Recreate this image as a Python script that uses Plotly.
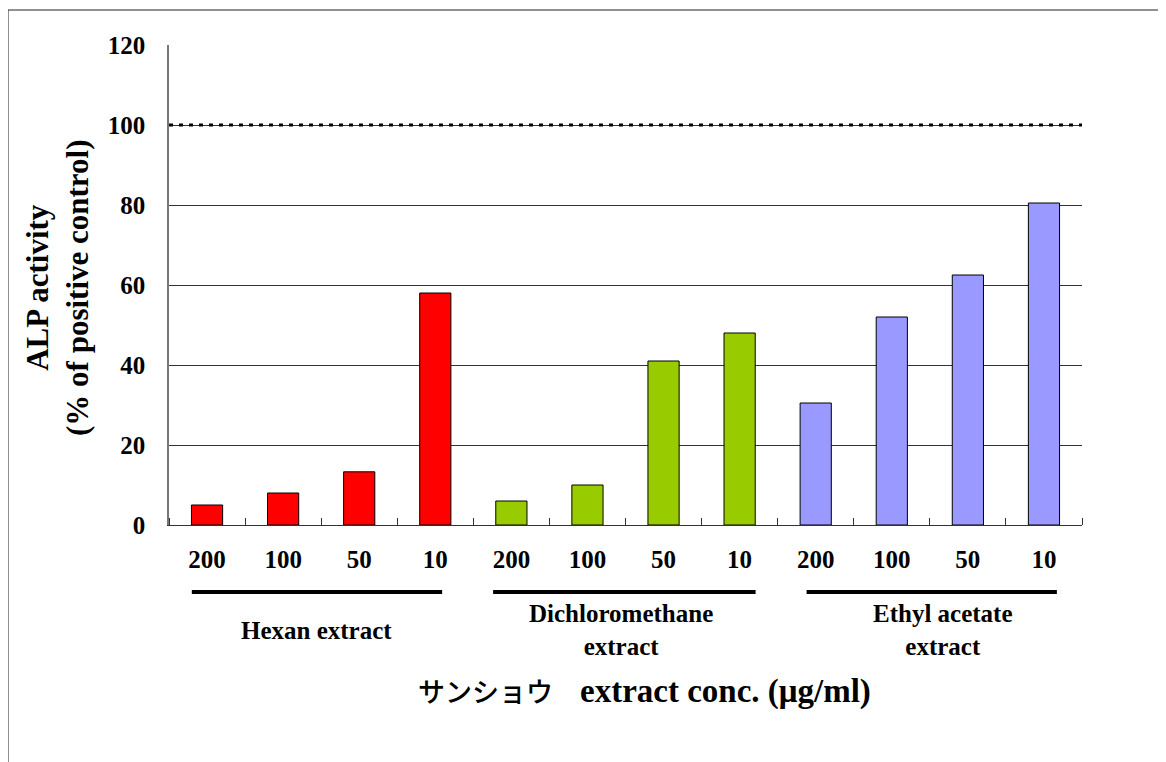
import plotly.graph_objects as go

# ---- data ----
groups = ["Hexan extract", "Dichloromethane<br>extract", "Ethyl acetate<br>extract"]
concentrations = ["200", "100", "50", "10"]
hexan_vals = [5, 8, 13.3, 58]
dichloro_vals = [6, 10, 41, 48]
ethyl_vals = [30.5, 52, 62.5, 80.5]
group_colors = ["#FF0000", "#99CC00", "#9999FF"]
y_ticks = [0, 20, 40, 60, 80, 100, 120]
control_level = 100

series = [hexan_vals, dichloro_vals, ethyl_vals]
n_conc = len(concentrations)

FONT = "Liberation Serif"
W, H = 1166, 762
OFF = 8  # page body margin
L, R, T, B = 169 - OFF, 1082 - OFF, 45 - OFF, 525 - OFF
pw, ph = R - L, B - T

def px2paperx(px):
    return (px - OFF - L) / pw

def px2papery(py):
    return (B - (py - OFF)) / ph

fig = go.Figure()
all_x = []
all_text = []
for gi, vals in enumerate(series):
    xs = [gi * n_conc + i for i in range(n_conc)]
    all_x += xs
    all_text += concentrations
    fig.add_trace(go.Bar(
        x=xs, y=vals, width=0.41,
        marker=dict(color=group_colors[gi], line=dict(color="black", width=1)),
        showlegend=False, hoverinfo="y",
    ))

n_total = len(all_x)
boundaries = [i - 0.5 for i in range(n_total + 1)]

fig.update_layout(
    width=W, height=H,
    margin=dict(l=L, r=W - R, t=T, b=H - B),
    paper_bgcolor="white", plot_bgcolor="white",
    barmode="overlay",
    font=dict(family=FONT, color="black"),
    xaxis=dict(
        range=[-0.5, n_total - 0.5],
        tickmode="array", tickvals=all_x, ticktext=all_text,
        ticks="", showgrid=False, zeroline=False,
        showline=True, linecolor="#333333", linewidth=1,
        tickfont=dict(family=FONT, size=25, color="black", weight="bold"),
        ticklabelstandoff=12,
        minor=dict(tickmode="array", tickvals=boundaries, ticks="inside",
                   ticklen=7, tickcolor="#333333", tickwidth=1, showgrid=False),
    ),
    yaxis=dict(
        range=[0, 120],
        tickmode="array", tickvals=y_ticks,
        showgrid=True, gridcolor="#333333", gridwidth=1,
        zeroline=False, showline=True, linecolor="#777777", linewidth=1.5,
        ticks="",
        tickfont=dict(family=FONT, size=25, color="black", weight="bold"),
        ticklabelstandoff=17,
    ),
)

shapes = []
# positive-control reference line
shapes.append(dict(type="line", xref="paper", yref="y", x0=0, x1=1,
                   y0=control_level, y1=control_level,
                   line=dict(color="black", width=3, dash="4px,6px")))
# group underline bars
group_spans = [(-0.2, 3.09), (3.76, 7.21), (7.88, 11.17)]
line_y = px2papery(592)
for (a, b) in group_spans:
    shapes.append(dict(type="line", xref="x", yref="paper", x0=a, x1=b,
                       y0=line_y, y1=line_y, line=dict(color="black", width=4)))
# outer frame
shapes.append(dict(type="rect", xref="paper", yref="paper",
                   x0=px2paperx(8), x1=px2paperx(1190),
                   y0=px2papery(790), y1=px2papery(10),
                   line=dict(color="#222222", width=1), fillcolor="rgba(0,0,0,0)",
                   layer="below"))
fig.update_layout(shapes=shapes)

annotations = []
label_shift = [-5, -5, 13]
for gi, g in enumerate(groups):
    cx = gi * n_conc + (n_conc - 1) / 2
    annotations.append(dict(
        x=cx, y=px2papery(630), xref="x", yref="paper", text=g,
        showarrow=False, xanchor="center", yanchor="middle", xshift=label_shift[gi],
        font=dict(family=FONT, size=25, color="black", weight="bold"), align="center"))

annotations.append(dict(
    x=px2paperx(57), y=px2papery(288), xref="paper", yref="paper",
    text="ALP activity<br>(% of positive control)", textangle=-90,
    showarrow=False, xanchor="center", yanchor="middle", align="center",
    font=dict(family=FONT, size=31, color="black", weight="bold")))

annotations.append(dict(
    x=px2paperx(644), y=px2papery(690), xref="paper", yref="paper",
    text="<span style='font-weight:500;font-family:Noto Sans CJK JP;font-size:27px'>サンショウ\u3000</span>extract conc. (μg/ml)",
    showarrow=False, xanchor="center", yanchor="middle",
    font=dict(family=FONT, size=33, color="black", weight="bold")))

fig.update_layout(annotations=annotations)

fig.write_html("out.html")
